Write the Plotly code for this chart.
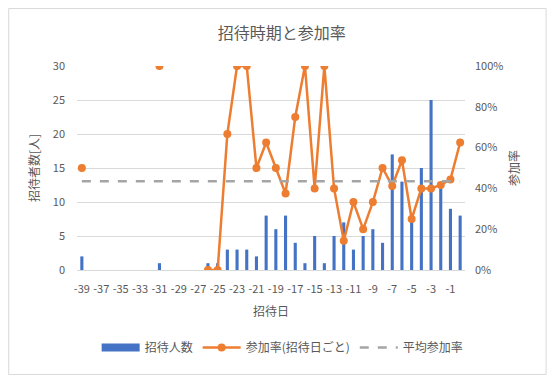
import plotly.graph_objects as go

days = list(range(-39, 1))
invited = [2, None, None, None, None, None, None, None, 1, None, None, None, None,
           1, 1, 3, 3, 3, 2, 8, 6, 8, 4, 1, 5, 1, 5, 7, 3, 5, 6, 4, 17, 13, 8, 15, 25, 12, 9, 8]
rate = [0.5, None, None, None, None, None, None, None, 1.0, None, None, None, None,
        0.0, 0.0, 0.667, 1.0, 1.0, 0.5, 0.625, 0.5, 0.375, 0.75, 1.0, 0.4, 1.0, 0.4, 0.143,
        0.333, 0.2, 0.333, 0.5, 0.412, 0.538, 0.25, 0.4, 0.4, 0.417, 0.444, 0.625]
avg_rate = 0.435
avg_line = [avg_rate for _ in days]
tick_days = list(range(-39, 0, 2))
tick_text = [str(d) for d in tick_days]
pct_ticks = [0, 0.2, 0.4, 0.6, 0.8, 1.0]

FONT = "Noto Sans CJK JP, Roboto, sans-serif"
GRAY = "#595959"

fig = go.Figure()
fig.add_trace(go.Bar(x=days, y=invited, name="招待人数", marker_color="#4472C4",
                     marker_line_width=0, yaxis="y", showlegend=False))
# legend entry styled like Excel's wide bar swatch
fig.add_trace(go.Scatter(x=[None], y=[None], name="招待人数", mode="lines",
                         line=dict(color="#4472C4", width=8), yaxis="y"))
fig.add_trace(go.Scatter(x=days, y=rate, name="参加率(招待日ごと)", mode="lines+markers",
                         line=dict(color="#ED7D31", width=2.5), marker=dict(size=8, color="#ED7D31"),
                         connectgaps=False, yaxis="y2"))
fig.add_trace(go.Scatter(x=days, y=avg_line, name="平均参加率", mode="lines",
                         line=dict(color="#A5A5A5", width=2.5, dash="dash"), yaxis="y2"))

fig.update_layout(
    width=542, height=367,
    margin=dict(l=69, r=85, t=58, b=105),
    paper_bgcolor="white", plot_bgcolor="white",
    font=dict(family=FONT, color=GRAY, size=11),
    bargap=0.68,
    title=dict(text="招待時期と参加率", x=0.505, xanchor="center", y=0.932, yanchor="middle",
               font=dict(size=16, color=GRAY)),
    xaxis=dict(range=[-39.5, 0.5], tickvals=tick_days, ticktext=tick_text, showgrid=False,
               showline=True, linecolor="#D9D9D9", linewidth=1, ticks="",
               title=dict(text="招待日", font=dict(size=12, color=GRAY), standoff=12),
               tickfont=dict(size=11, color=GRAY), zeroline=False, ticklabelstandoff=9),
    yaxis=dict(range=[0, 30], dtick=5, showgrid=True, gridcolor="#D9D9D9", gridwidth=1,
               zeroline=False, showline=False, ticks="",
               title=dict(text="招待者数[人]", font=dict(size=12, color=GRAY), standoff=10),
               tickfont=dict(size=11, color=GRAY), ticklabelstandoff=11),
    yaxis2=dict(range=[0, 1], overlaying="y", side="right", tickvals=pct_ticks,
                tickformat=".0%", showgrid=False, zeroline=False, showline=False, ticks="",
                title=dict(text="参加率", font=dict(size=12, color=GRAY), standoff=8),
                tickfont=dict(size=11, color=GRAY), ticklabelstandoff=9),
    legend=dict(orientation="h", x=0.53, xanchor="center", y=-0.38, yanchor="middle",
                font=dict(size=12, color=GRAY), itemwidth=38, traceorder="normal"),
    showlegend=True,
    shapes=[dict(type="rect", xref="paper", yref="paper", x0=-0.176, x1=1.209, y0=-0.512, y1=1.282,
                 line=dict(color="#D9D9D9", width=1), fillcolor="rgba(0,0,0,0)", layer="below")],
)

fig.write_html("out.html")
